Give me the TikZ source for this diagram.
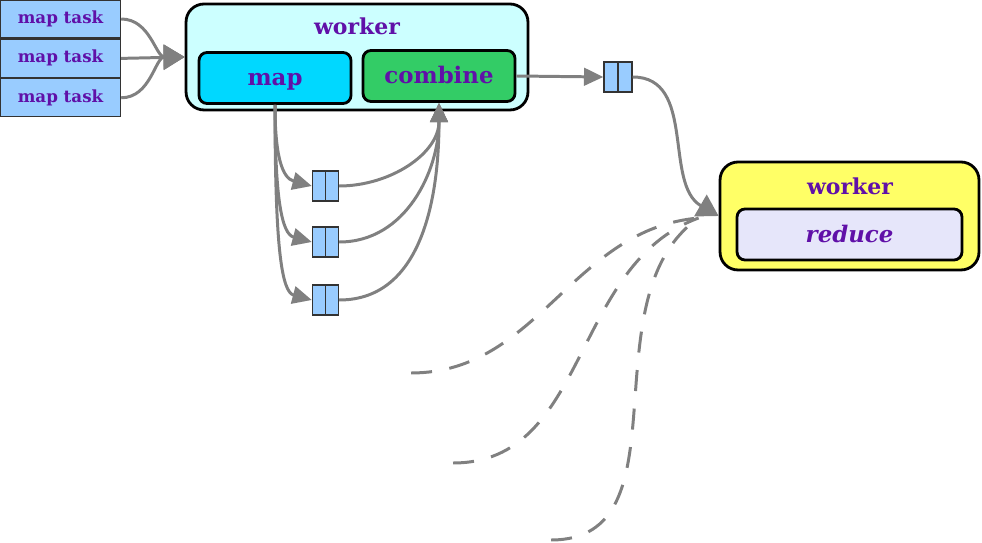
\documentclass[tikz,border=0pt]{standalone}
\usepackage{fontspec}
\usepackage{tikz}
\usetikzlibrary{positioning, arrows.meta, calc}

\newfontfamily\diagfont{DejaVu Serif}

\definecolor{taskblue}{HTML}{99CCFF}
\definecolor{workercyan}{HTML}{CCFFFF}
\definecolor{mapcyan}{HTML}{00D8FF}
\definecolor{combinegreen}{HTML}{33CC66}
\definecolor{workeryellow}{HTML}{FFFF66}
\definecolor{reducelav}{HTML}{E6E6FA}
\definecolor{ink}{HTML}{6010A8}
\definecolor{wire}{HTML}{808080}

\begin{document}
\begin{tikzpicture}[x=0.02cm, y=-0.02cm,
        taskbox/.style={draw=black!80, line width=0.8pt, fill=taskblue, minimum width=2.4cm, minimum height=0.76cm, inner sep=0pt, text=ink, font=\diagfont\fontsize{9.5}{11}\selectfont\bfseries},
        workerbox/.style={draw=black, line width=1.6pt, rounded corners=0.36cm, inner sep=0pt},
        stagebox/.style={draw=black, line width=1.6pt, rounded corners=0.16cm, minimum width=3.04cm, minimum height=1.02cm, inner sep=0pt, text height=11pt, text depth=2.4pt, text=ink, font=\diagfont\fontsize{13}{15}\selectfont\bfseries},
        titletext/.style={text=ink, inner sep=0pt, font=\diagfont\fontsize{12.5}{15}\selectfont\bfseries},
        queuebox/.style={draw=black!80, line width=0.8pt, fill=taskblue, minimum width=0.52cm, minimum height=0.6cm, inner sep=0pt,
            path picture={\draw[black!80, line width=0.8pt] (path picture bounding box.north) -- (path picture bounding box.south);}},
        flow/.style={draw=wire, line width=1.7pt, -{Triangle[length=11pt, width=10pt]}},
        bigflow/.style={draw=wire, line width=1.7pt, -{Triangle[length=12pt, width=14pt]}},
        dashflow/.style={draw=wire, line width=1.7pt, dash pattern=on 12pt off 10pt}
    ]
        \useasboundingbox (0,0) rectangle (982,543);

        % map tasks
        \node[taskbox] (task1) at (60.5,19) {map task};
        \node[taskbox, below=0pt of task1] (task2) {map task};
        \node[taskbox, below=0pt of task2] (task3) {map task};

        % first worker
        \node[workerbox, fill=workercyan, minimum width=6.84cm, minimum height=2.12cm] (wk1) at (357,57) {};
        \node[titletext] (wk1title) at (357,26) {worker};
        \node[stagebox, fill=mapcyan] (map) at (275,78) {map};
        \node[stagebox, fill=combinegreen] (combine) at (439,76) {combine};

        % queues
        \node[queuebox] (q1) at (325.5,186) {};
        \node[queuebox] (q2) at (325.5,242) {};
        \node[queuebox] (q3) at (325.5,300) {};
        \node[queuebox, minimum width=0.56cm] (qout) at (618,77) {};

        % second worker
        \node[workerbox, fill=workeryellow, minimum width=5.18cm, minimum height=2.16cm] (wk2) at (849.5,216) {};
        \node[titletext] (wk2title) at (850,186) {worker};
        \node[stagebox, fill=reducelav, minimum width=4.5cm] (reduce) at (849.5,234.5) {\itshape reduce};

        % other map outputs
        \coordinate (in1) at (411,373);
        \coordinate (in2) at (453,463);
        \coordinate (in3) at (551,540);

        \draw[bigflow] (task1.east) to[out=0, in=180] (wk1.west);
        \draw[bigflow] (task2.east) -- (wk1.west);
        \draw[bigflow] (task3.east) to[out=0, in=180] (wk1.west);

        \foreach \q/\d in {q1/50, q2/95, q3/145} {
            \draw[flow] (map.south) .. controls ($(map.south)+(0,\d)$) and ($(\q.west)+(-30,-8)$) .. (\q.west);
            \draw[flow] (\q.east) to[out=0, in=-90] (combine.south);
        }

        \draw[flow] (combine.east) -- (qout.west);
        \draw[bigflow] (qout.east) to[out=0, in=150] (wk2.west);

        \draw[dashflow] (in1) to[out=0, in=185] ($(wk2.west)+(-20,2)$);
        \draw[dashflow] (in2) to[out=0, in=200] ($(wk2.west)+(-20,2)$);
        \draw[dashflow] (in3) to[out=0, in=215] ($(wk2.west)+(-20,2)$);
    \end{tikzpicture}
\end{document}
